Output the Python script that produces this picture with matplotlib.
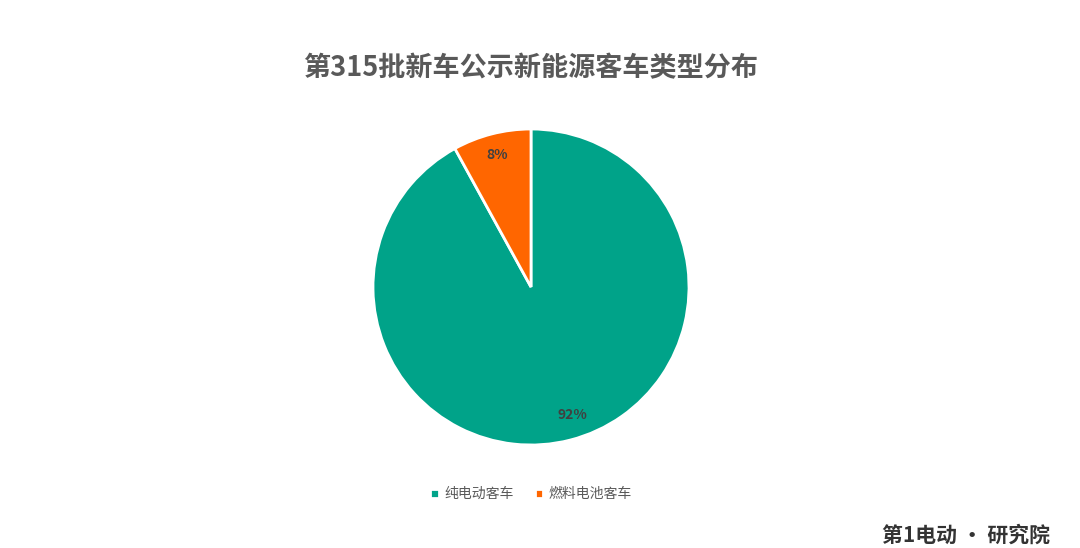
import matplotlib
matplotlib.use('Agg')
import matplotlib.pyplot as plt

plt.rcParams['font.family'] = ['Noto Sans CJK SC', 'DejaVu Sans']

# data
labels = ['纯电动客车', '燃料电池客车']
values = [92, 8]
colors = ['#00A389', '#FF6600']

fig = plt.figure(figsize=(10.8, 5.48), dpi=100)
fig.patch.set_facecolor('white')

fig.text(0.4917, 0.876, '第315批新车公示新能源客车类型分布', ha='center', va='center',
         fontsize=19.5, fontweight='bold', color='#595959')

ax = fig.add_axes([373 / 1080, 103 / 548, 316 / 1080, 316 / 548])
wedges, texts, autotexts = ax.pie(values, colors=colors, startangle=90, counterclock=False,
                                  autopct='%d%%', pctdistance=0.86,
                                  wedgeprops=dict(edgecolor='white', linewidth=2),
                                  textprops=dict(fontsize=10, color='#404040', fontweight='bold'))
ax.set_xlim(-1.0, 1.0)
ax.set_ylim(-1.0, 1.0)
ax.set_aspect('equal')
# nudge the big label a little to the right, like the original
x, y = autotexts[0].get_position()
autotexts[0].set_position((x + 0.05, y + 0.02))

# legend
leg = fig.legend(wedges, labels, loc='center', bbox_to_anchor=(0.4917, 0.098), ncol=2,
                 frameon=False, handlelength=0.6, handleheight=0.6, handletextpad=0.4,
                 columnspacing=1.5, fontsize=10)
for t in leg.get_texts():
    t.set_color('#595959')

# watermark logo (approximate)
fig.text(0.972, 0.004, '第1电动 · 研究院', ha='right', va='bottom', fontsize=15,
         color='#333333', fontweight='bold')

fig.savefig('out.png', dpi=100, facecolor='white')
